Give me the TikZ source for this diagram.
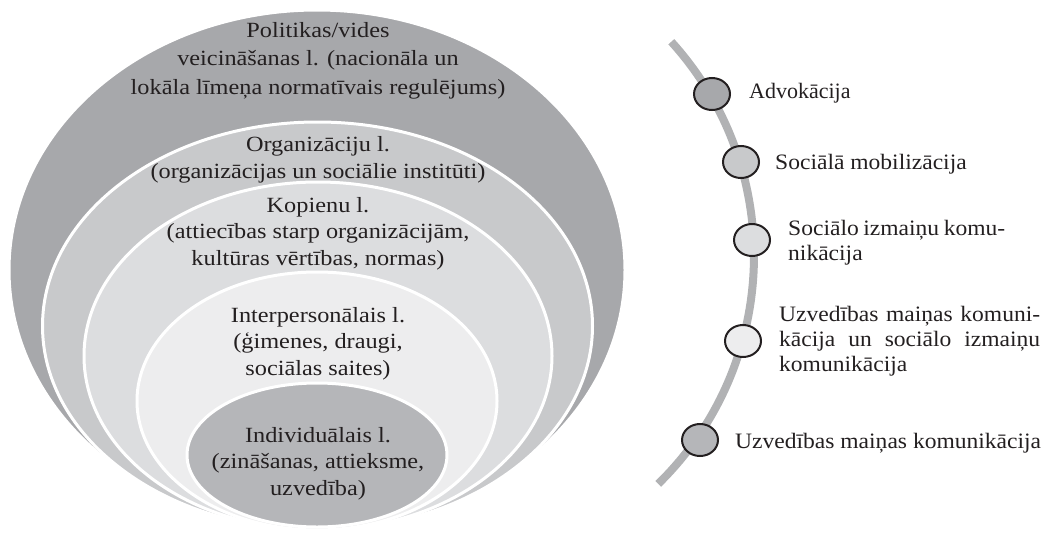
\documentclass[tikz,border=0pt]{standalone}
\usepackage{fontspec}
\setmainfont{Liberation Serif}
\newfontfamily\layerfont[FakeStretch=1.12]{Liberation Serif}
\newfontfamily\labelfont[FakeStretch=1.07]{Liberation Serif}
\usetikzlibrary{shapes.geometric}
\definecolor{cA}{HTML}{A7A8AB}
\definecolor{cB}{HTML}{C8C9CB}
\definecolor{cC}{HTML}{DCDDDF}
\definecolor{cD}{HTML}{EDEDEE}
\definecolor{cE}{HTML}{B5B6B9}
\definecolor{arcgray}{HTML}{B1B2B4}
\definecolor{ink}{HTML}{231F20}
\begin{document}
\begin{tikzpicture}[x=1pt,y=-1pt,
  ring/.style={draw=white, line width=3pt},
  layer/.style={font=\layerfont\fontsize{21.7}{26.5}\selectfont, align=center, inner sep=0pt, anchor=base, text=ink},
  lab/.style={font=\labelfont\fontsize{22}{25}\selectfont, align=left, inner sep=0pt, anchor=base west, text=ink},
  dot/.style={ellipse, draw=ink, line width=2pt, minimum width=36pt, minimum height=32pt, inner sep=0pt}]
\useasboundingbox (0,0) rectangle (1047,536);
% nested layers
\filldraw[ring, fill=cA] (317,270) ellipse [x radius=308pt, y radius=260pt];
\filldraw[ring, fill=cB] (317.5,326) ellipse [x radius=275pt, y radius=204pt];
\filldraw[ring, fill=cC] (318,356) ellipse [x radius=234pt, y radius=174pt];
\filldraw[ring, fill=cD] (317,401) ellipse [x radius=180pt, y radius=129pt];
\filldraw[ring, fill=cE] (317,455) ellipse [x radius=130pt, y radius=72pt];
% layer texts (anchor = baseline of the last line)
\node[layer, font=\layerfont\fontsize{21.7}{28.5}\selectfont] (pol) at (318,94.3) {Politikas/vides\\veicināšanas l. (nacionāla un\\lokāla līmeņa normatīvais regulējums)};
\node[layer] (org) at (318,178) {Organizāciju l.\\(organizācijas un sociālie institūti)};
\node[layer] (kop) at (318,265) {Kopienu l.\\(attiecības starp organizācijām,\\kultūras vērtības, normas)};
\node[layer] (int) at (318,375) {Interpersonālais l.\\(ģimenes, draugi,\\sociālas saites)};
\node[layer] (ind) at (318,495) {Individuālais l.\\(zināšanas, attieksme,\\uzvedība)};
% arc
\draw[arcgray, line width=8pt] (435,256) ++(-42.2:319) arc[start angle=-42.2, end angle=45.6, radius=319];
% markers
\node[dot, fill=cA] (d1) at (712,94) {};
\node[dot, fill=cB] (d2) at (741,162) {};
\node[dot, fill=cC] (d3) at (752,240) {};
\node[dot, fill=cD] (d4) at (743,341) {};
\node[dot, fill=cE] (d5) at (700,440) {};
% labels
\node[lab, font=\rmfamily\fontsize{22}{25}\selectfont] (t1) at (749,98) {Advokācija};
\node[lab] (t2) at (775,169) {Sociālā mobilizācija};
\node[lab] (t3) at (788,260) {\makebox[217pt][s]{Sociālo izmaiņu komu-}\\nikācija};
\node[lab] (t4) at (779,371) {\makebox[261pt][s]{Uzvedības maiņas komuni-}\\\makebox[261pt][s]{kācija un sociālo izmaiņu}\\komunikācija};
\node[lab] (t5) at (735,448) {Uzvedības maiņas komunikācija};
\end{tikzpicture}
\end{document}
